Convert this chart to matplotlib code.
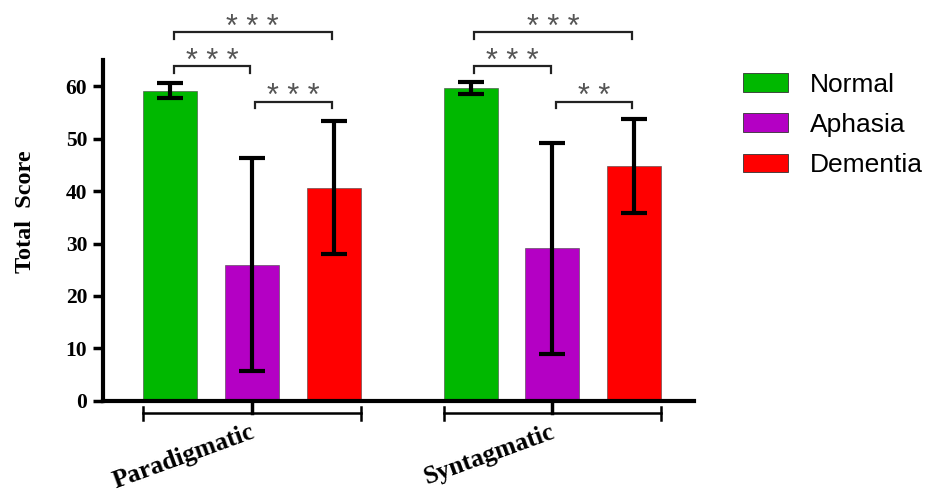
import numpy as np
import matplotlib.pyplot as plt
from matplotlib.patches import Patch

groups = ["Paradigmatic", "Syntagmatic"]
series = ["Normal", "Aphasia", "Dementia"]
colors = ["#00B800", "#B400C4", "#FF0000"]

means = {
    "Normal": [59.2, 59.7],
    "Aphasia": [26.0, 29.1],
    "Dementia": [40.7, 44.8],
}
errors = {
    "Normal": [1.5, 1.2],
    "Aphasia": [20.4, 20.1],
    "Dementia": [12.7, 8.9],
}

# significance: (group, series_a, series_b, label)
sig = [
    (0, 0, 1, "* * *"),
    (0, 0, 2, "* * *"),
    (0, 1, 2, "* * *"),
    (1, 0, 1, "* * *"),
    (1, 0, 2, "* * *"),
    (1, 1, 2, "* *"),
]
sig_height = {(0, 1): 63.8, (0, 2): 70.3, (1, 2): 57.1}

serif = "Liberation Serif"
fig = plt.figure(figsize=(9.5, 4.93), dpi=100)
ax = fig.add_axes([0.108, 0.187, 0.622, 0.691])

group_x = np.array([0.0, 3.68])
width = 0.66
for i, s in enumerate(series):
    xs = group_x + i
    ax.bar(xs, means[s], width, color=colors[i], edgecolor="#444444", linewidth=0.4, zorder=2)
    ax.errorbar(xs, means[s], yerr=errors[s], fmt="none", ecolor="black",
                elinewidth=3, capsize=9.5, capthick=3, zorder=3)

for g, a, b, lab in sig:
    x0 = group_x[g] + a + 0.04
    x1 = group_x[g] + b - 0.02
    y = sig_height[(a, b)]
    ax.plot([x0, x0, x1, x1], [y - 1.2, y, y, y - 1.2], color="#222222", lw=1.6,
            clip_on=False, solid_joinstyle="miter")
    ax.text((x0 + x1) / 2, y - 0.7, lab, ha="center", va="baseline", fontsize=22,
            color="#555555", family="Liberation Sans", clip_on=False)

# group brackets below the axis
for gx, name in zip(group_x, groups):
    yb = -2.4
    ax.plot([gx - width / 2, gx + 2 + width / 2], [yb, yb], color="black", lw=1.8, clip_on=False)
    for xe in (gx - width / 2, gx + 2 + width / 2):
        ax.plot([xe, xe], [yb - 1.2, yb + 1.2], color="black", lw=1.8, clip_on=False)
    ax.plot([gx + 1, gx + 1], [0, yb], color="black", lw=2.5, clip_on=False)
    ax.text(gx + 0.97, -3.7, name, rotation=20, rotation_mode="anchor", ha="right", va="top",
            fontsize=18.5, fontweight="bold", family=serif)

ax.set_xlim(-0.83, 6.41)
ax.set_ylim(0, 65)
ax.set_xticks([])
ax.set_yticks(range(0, 61, 10))
ax.tick_params(axis="y", length=7, width=2.5, labelsize=15.5, pad=4)
for lbl in ax.get_yticklabels():
    lbl.set_fontweight("bold")
    lbl.set_family(serif)
ax.spines["top"].set_visible(False)
ax.spines["right"].set_visible(False)
ax.spines["left"].set_linewidth(3)
ax.spines["bottom"].set_linewidth(3)
ax.set_ylabel("Total  Score", fontsize=17.5, fontweight="bold", family=serif)
ax.yaxis.set_label_coords(-0.113, 0.555)

handles = [Patch(facecolor=c, edgecolor="#333333", linewidth=0.6, label=s) for s, c in zip(series, colors)]
fig.legend(handles=handles, loc="upper left", bbox_to_anchor=(0.757, 0.901), frameon=False,
           prop={"family": "Liberation Sans", "size": 19}, handlelength=1.7, handleheight=0.7,
           handletextpad=0.85, labelspacing=0.62)

fig.savefig("out.png", dpi=100)
